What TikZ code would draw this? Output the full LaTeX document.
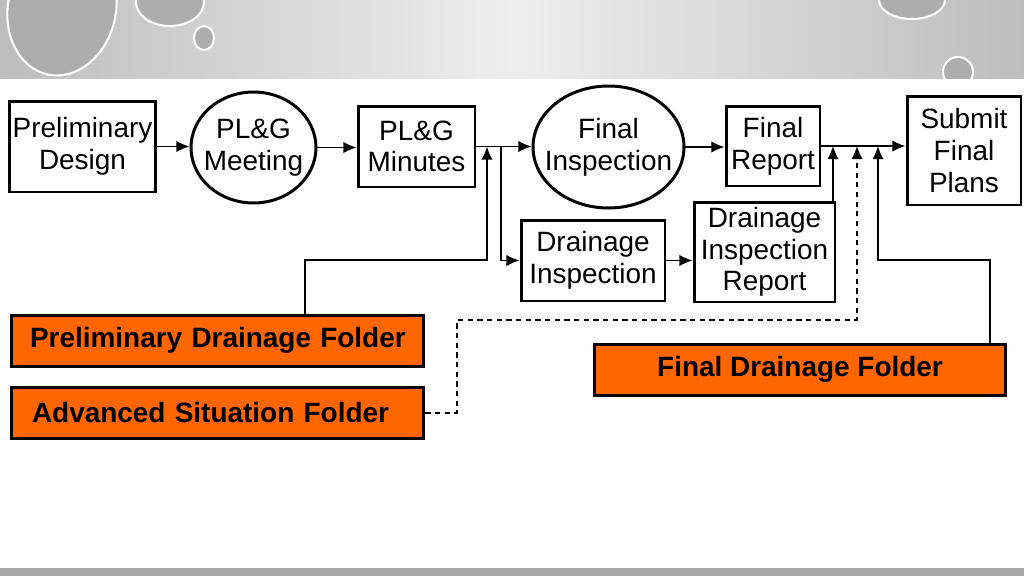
\documentclass[tikz,border=0pt]{standalone}
\usepackage{fontspec}
\setmainfont{Liberation Sans}
\usetikzlibrary{shapes.geometric, arrows.meta, positioning, calc}
\definecolor{folderorange}{HTML}{FF6600}
\definecolor{bandedge}{HTML}{BDBDBD}
\definecolor{bandmid}{HTML}{EEEEEE}
\definecolor{footgray}{HTML}{A9A9A9}

\begin{document}
\begin{tikzpicture}[
  x=0.02cm, y=-0.02cm,
  stepbox/.style={rectangle, draw, line width=1.7pt, align=center,
                  inner sep=1pt, font=\fontsize{15.9}{18}\selectfont},
  stepell/.style={ellipse, draw, line width=1.7pt, align=center,
                  inner xsep=-6pt, inner ysep=0pt,
                  font=\fontsize{15.9}{18}\selectfont},
  folder/.style={rectangle, draw, fill=folderorange, line width=1.7pt,
                 minimum width=8.26cm, minimum height=1.02cm,
                 font=\fontsize{15.9}{18}\selectfont\bfseries},
  leftfolder/.style={folder, align=left, text width=7.9cm},
  flow/.style={-{Latex[length=7.5pt,width=6.5pt]}, line width=0.85pt},
  feed/.style={-{Latex[length=7.5pt,width=6.5pt]}, line width=1.2pt},
  dashflow/.style={-{Latex[length=7.5pt,width=6.5pt]}, line width=0.9pt,
                   dash pattern=on 3pt off 2.5pt},
  bubble/.style={draw=white, line width=1.2pt, fill=black!32},
]
  \useasboundingbox (0,0) rectangle (1024,576);

  % banner at the top and strip at the bottom
  \shade[left color=bandedge, right color=bandedge, middle color=bandmid]
    (0,0) rectangle (1024,78);
  \begin{scope}
    \clip (0,0) rectangle (1024,78);
    \draw[bubble, rotate around={-12:(62,8)}] (62,8) ellipse [x radius=54, y radius=68];
    \draw[bubble] (170,2) ellipse [x radius=34, y radius=24];
    \draw[bubble] (204,38) ellipse [x radius=10, y radius=12];
    \draw[bubble] (912,0) ellipse [x radius=33, y radius=19];
    \draw[bubble] (958,72) ellipse [x radius=15, y radius=15];
  \end{scope}
  \fill[footgray] (0,568) rectangle (1024,576);

  % steps
  \node[stepbox, minimum width=2.94cm, minimum height=1.82cm] (pdesign) at (82.5,146.5) {Preliminary\\Design};
  \node[stepell, minimum width=2.5cm, minimum height=2.22cm]  (pgmeet)  at (253.5,147.5) {PL\&G\\Meeting};
  \node[stepbox, minimum width=2.34cm, minimum height=1.62cm] (pgmin)   at (416.5,146.5) {PL\&G\\Minutes};
  \node[stepell, minimum width=3.02cm, minimum height=2.44cm] (finsp)   at (608.5,147) {Final\\Inspection};
  \node[stepbox, minimum width=1.88cm, minimum height=1.6cm]  (frep)    at (773,146) {Final\\Report};
  \node[stepbox, minimum width=2.28cm, minimum height=2.18cm] (submit)  at (964,150.5) {Submit\\Final\\Plans};
  \node[stepbox, minimum width=2.88cm, minimum height=1.62cm] (dinsp)   at (593,260.5) {Drainage\\Inspection};
  \node[stepbox, minimum width=2.82cm, minimum height=2.0cm]  (direp)   at (764.5,252) {Drainage\\Inspection\\Report};

  % folders
  \node[leftfolder] (pdfold) at (217.5,340.5) {\hspace*{0.2cm}Preliminary Drainage Folder};
  \node[leftfolder] (asfold) at (217.5,413) {\hspace*{0.24cm}Advanced Situation Folder};
  \node[folder, minimum width=8.24cm] (fdfold) at (800,369.5) {Final Drainage Folder};

  % junctions
  \coordinate (split)    at (501,146.5);
  \coordinate (pdup)     at (487,146.5);
  \coordinate (pdbend)   at (305,260);
  \coordinate (drup)     at (833,146);
  \coordinate (dashup)   at (857,146);
  \coordinate (dashbend) at (457,320);
  \coordinate (fdup)     at (878,146);
  \coordinate (fdbend)   at (990,260);

  \draw[flow] (pdesign.east) -- (pdesign.east -| pgmeet.west);
  \draw[flow] (pgmeet.east) -- (pgmeet.east -| pgmin.west);
  \draw[flow] (pgmin.east) -- (pgmin.east -| finsp.west);
  \draw[flow] (split) |- (dinsp.west);
  \draw[flow] (dinsp.east) -- (dinsp.east -| direp.west);
  \draw[flow] (finsp.east) -- (finsp.east -| frep.west);
  \draw[flow] (frep.east) -- (frep.east -| submit.west);
  \draw[flow] (direp.north -| drup) -- (drup);

  \draw[feed] (pdfold.north -| pdbend) -- (pdbend) -- (pdbend -| pdup) -- (pdup);
  \draw[dashflow] (asfold.east) -- (asfold.east -| dashbend) -- (dashbend)
    -- (dashbend -| dashup) -- (dashup);
  \draw[feed] (fdfold.north -| fdbend) -- (fdbend) -- (fdbend -| fdup) -- (fdup);
\end{tikzpicture}
\end{document}
